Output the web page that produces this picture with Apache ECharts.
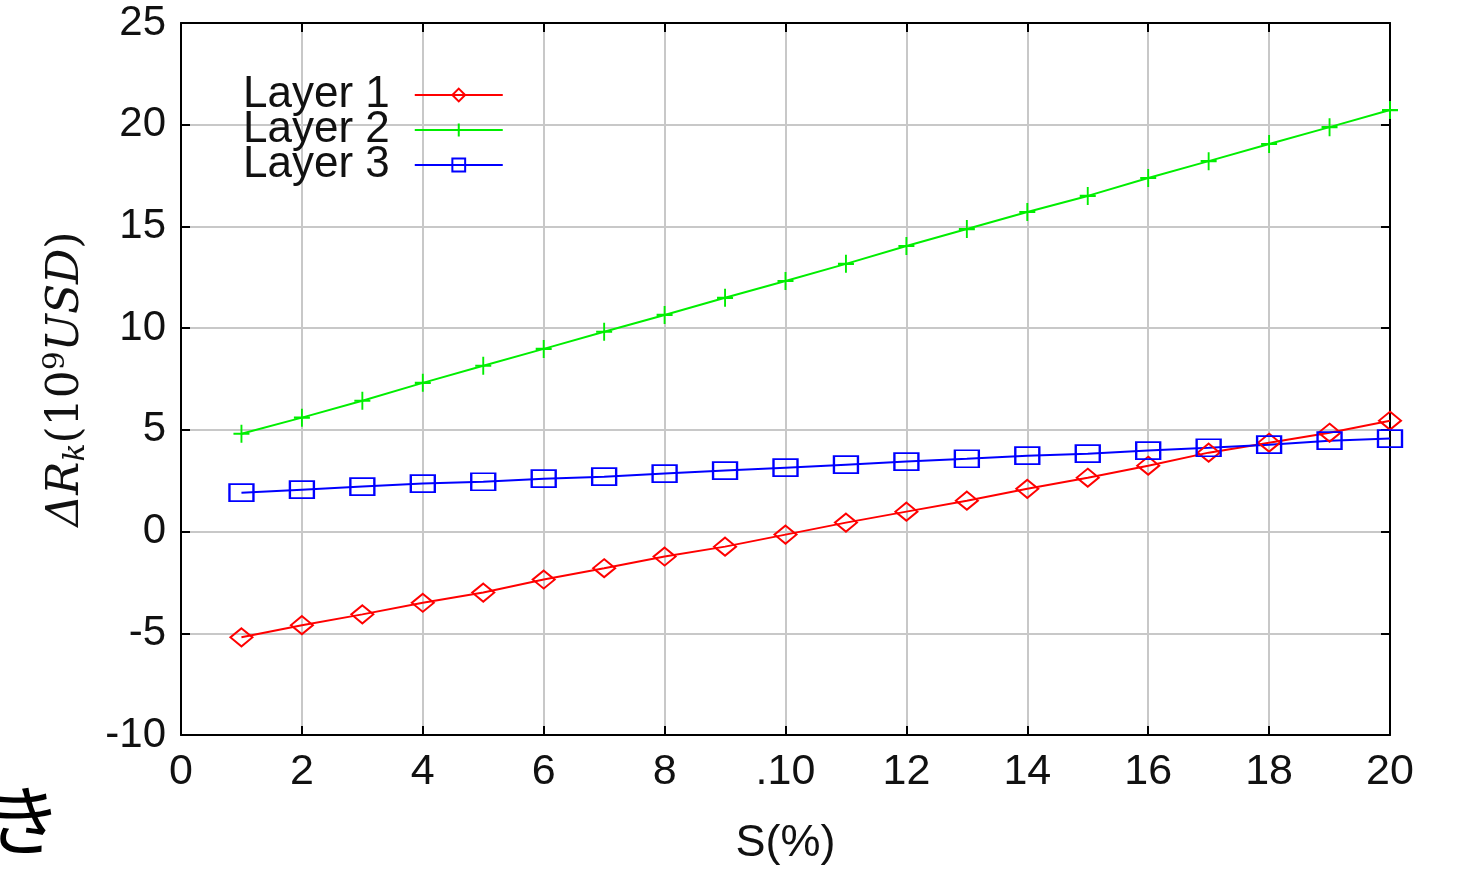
<!DOCTYPE html>
<html>
<head>
<meta charset="utf-8">
<script src="https://cdn.jsdelivr.net/npm/echarts@6/dist/echarts.min.js"></script>
<style>
  html, body { margin: 0; padding: 0; background: #fff; }
  #main { width: 1462px; height: 871px; }
</style>
</head>
<body>
<div id="main"></div>
<script>
// S(%) values
var sValues = [1, 2, 3, 4, 5, 6, 7, 8, 9, 10, 11, 12, 13, 14, 15, 16, 17, 18, 19, 20];
var layer1 = [-5.2, -4.6, -4.07, -3.5, -3.0, -2.36, -1.8, -1.23, -0.74, -0.15,
              0.44, 0.98, 1.52, 2.1, 2.65, 3.24, 3.88, 4.37, 4.86, 5.45];
var layer2 = [4.81, 5.6, 6.43, 7.31, 8.15, 8.98, 9.82, 10.65, 11.49, 12.32,
              13.16, 14.04, 14.87, 15.71, 16.5, 17.38, 18.21, 19.05, 19.88, 20.72];
var layer3 = [1.91, 2.06, 2.21, 2.36, 2.45, 2.6, 2.7, 2.85, 3.0, 3.14,
              3.29, 3.44, 3.58, 3.73, 3.83, 3.98, 4.12, 4.27, 4.47, 4.57];
// x tick labels as printed
var xTickLabels = {0: '0', 2: '2', 4: '4', 6: '6', 8: '8', 10: '.10', 12: '12', 14: '14', 16: '16', 18: '18', 20: '20'};

function pairs(ys) {
    return sValues.map(function (x, i) { return [x, ys[i]]; });
}

var myChart = echarts.init(document.getElementById('main'));
var font = 'Liberation Sans';
var gridLine = { show: true, lineStyle: { color: '#c8c8c8', width: 2 } };
var blackLine = { show: true, onZero: false, lineStyle: { color: '#000', width: 2 } };
var inTick = { show: true, inside: true, length: 9, lineStyle: { color: '#000', width: 2 } };

var option = {
    backgroundColor: '#fff',
    animation: false,
    grid: { left: 181, right: 72, top: 23, bottom: 135 },
    legend: {
        left: 238,
        top: 68,
        orient: 'vertical',
        align: 'right',
        itemGap: -9,
        itemWidth: 88,
        itemHeight: 16,
        textStyle: { fontFamily: font, fontSize: 44, color: '#111', padding: [0, 20, 0, 0] },
        data: ['Layer 1', 'Layer 2', 'Layer 3']
    },
    xAxis: [{
        type: 'value', min: 0, max: 20, interval: 2,
        axisLine: blackLine, axisTick: inTick, splitLine: gridLine,
        axisLabel: {
            fontFamily: font, fontSize: 43, color: '#111', margin: 16,
            formatter: function (v) { return xTickLabels[v]; }
        },
        name: 'S(%)', nameLocation: 'middle', nameGap: 86,
        nameTextStyle: { fontFamily: font, fontSize: 45, color: '#111' }
    }, {
        type: 'value', min: 0, max: 20, interval: 2, position: 'top',
        axisLine: blackLine, axisTick: inTick, axisLabel: { show: false }, splitLine: { show: false }
    }],
    yAxis: [{
        type: 'value', min: -10, max: 25, interval: 5,
        axisLine: blackLine, axisTick: inTick, splitLine: gridLine,
        axisLabel: { fontFamily: font, fontSize: 42, color: '#111', margin: 15 },
        name: '{a|ΔR}{s|k}{b|(10}{p|9}{a|USD}{b|)}',
        nameLocation: 'middle', nameRotate: 90, nameGap: 88,
        nameTextStyle: {
            rich: {
                a: { fontFamily: 'DejaVu Serif', fontStyle: 'italic', fontSize: 44, color: '#111' },
                b: { fontFamily: 'DejaVu Serif', fontSize: 44, color: '#111' },
                s: { fontFamily: 'DejaVu Serif', fontStyle: 'italic', fontSize: 30, color: '#111', padding: [18, 0, 0, 0] },
                p: { fontFamily: 'DejaVu Serif', fontSize: 30, color: '#111', padding: [0, 0, 22, 0] }
            }
        }
    }, {
        type: 'value', min: -10, max: 25, interval: 5, position: 'right',
        axisLine: blackLine, axisTick: inTick, axisLabel: { show: false }, splitLine: { show: false }
    }],
    graphic: [{
        type: 'text', x: -14, y: 782,
        style: { text: 'き', fontFamily: 'Noto Sans CJK JP', fontSize: 76, fill: '#000' }
    }],
    series: [{
        name: 'Layer 1', type: 'line', data: pairs(layer1),
        symbol: 'diamond', symbolSize: [22, 18],
        lineStyle: { color: '#ff0000', width: 2 },
        itemStyle: { color: 'rgba(255,255,255,0)', borderColor: '#ff0000', borderWidth: 2 }
    }, {
        name: 'Layer 2', type: 'line', data: pairs(layer2),
        symbol: 'path://M0,5L10,5M5,0L5,10', symbolSize: [16, 18],
        lineStyle: { color: '#00ee00', width: 2 },
        itemStyle: { color: 'rgba(255,255,255,0)', borderColor: '#00ee00', borderWidth: 2 }
    }, {
        name: 'Layer 3', type: 'line', data: pairs(layer3),
        symbol: 'rect', symbolSize: [24, 17],
        lineStyle: { color: '#0000ff', width: 2 },
        itemStyle: { color: 'rgba(255,255,255,0)', borderColor: '#0000ff', borderWidth: 2 }
    }]
};
myChart.setOption(option);
window.addEventListener('resize', function () {
    myChart.resize();
});
</script>
</body>
</html>
